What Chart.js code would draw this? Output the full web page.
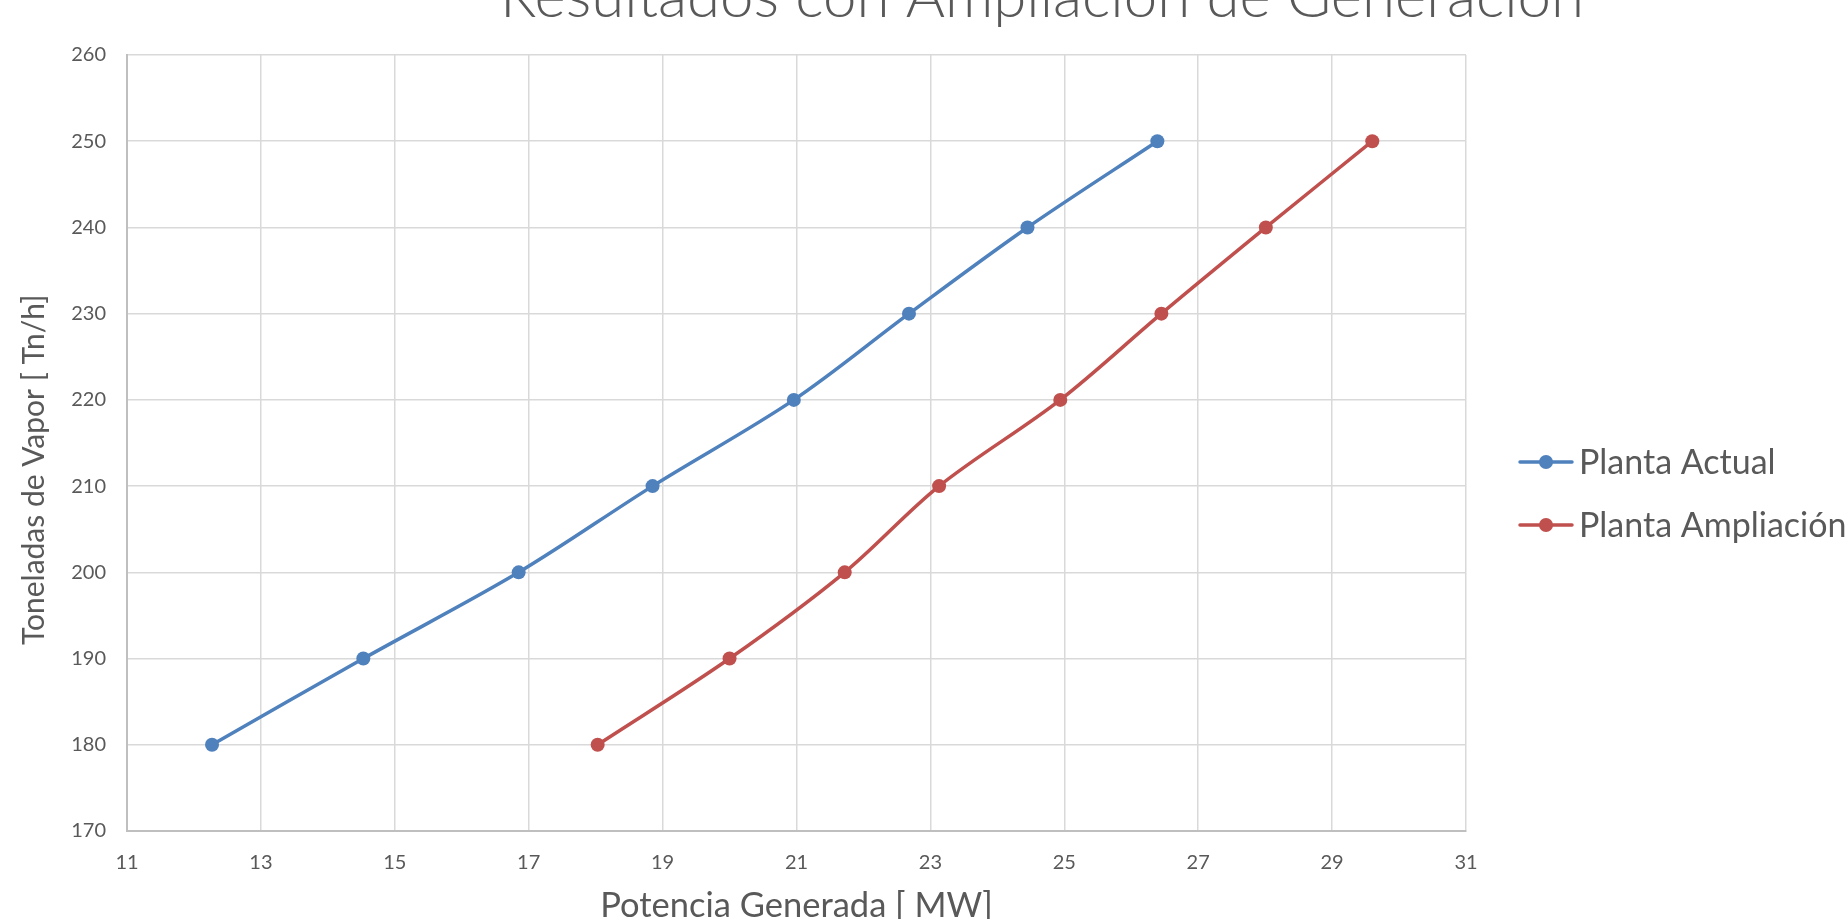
<!DOCTYPE html>
<html>
<head>
<meta charset="utf-8">
<script src="https://cdn.jsdelivr.net/npm/chart.js@4"></script>
<style>
  html, body { margin: 0; padding: 0; background: #ffffff; overflow: hidden; }
  #c { display: block; }
</style>
</head>
<body>
<canvas id="c" width="1846" height="919"></canvas>
<script>
// ---- Data ----
const toneladasVapor = [180, 190, 200, 210, 220, 230, 240, 250];
const potenciaActual = [12.27, 14.53, 16.85, 18.85, 20.96, 22.68, 24.45, 26.39];
const potenciaAmpliacion = [18.03, 20.00, 21.72, 23.13, 24.94, 26.45, 28.01, 29.60];
const seriesNames = ['Planta Actual', 'Planta Ampliación'];
const xTicks = [11, 13, 15, 17, 19, 21, 23, 25, 27, 29, 31];
const yTicks = [170, 180, 190, 200, 210, 220, 230, 240, 250, 260];
const chartTitle = 'Resultados con Ampliación de Generación';
const xAxisTitle = 'Potencia Generada [ MW]';
const yAxisTitle = 'Toneladas de Vapor [ Tn/h]';

const COLORS = ['#4F81BD', '#C0504D'];
const TEXT = '#595959';
const FONT = 'Lato, "Open Sans", sans-serif';

function pts(xs, ys) { return xs.map((x, i) => ({ x: x, y: ys[i] })); }

const titleAndLegend = {
  id: 'titleAndLegend',
  afterDraw(chart) {
    const ctx = chart.ctx;
    ctx.save();
    // Title (top part cut off by the page edge, as in the reference)
    ctx.fillStyle = TEXT;
    ctx.font = '300 60px ' + FONT;
    ctx.textAlign = 'center';
    ctx.textBaseline = 'alphabetic';
    ctx.fillText(chartTitle, 1042, 17);
    // Legend: line + circle marker + label
    const rows = [462, 525];
    chart.data.datasets.forEach((ds, i) => {
      const y = rows[i];
      ctx.strokeStyle = ds.borderColor;
      ctx.lineWidth = ds.borderWidth;
      ctx.lineCap = 'round';
      ctx.beginPath();
      ctx.moveTo(1520, y);
      ctx.lineTo(1572, y);
      ctx.stroke();
      ctx.fillStyle = ds.borderColor;
      ctx.beginPath();
      ctx.arc(1546, y, ds.pointRadius, 0, Math.PI * 2);
      ctx.fill();
      ctx.fillStyle = TEXT;
      ctx.font = '34px ' + FONT;
      ctx.textAlign = 'left';
      ctx.textBaseline = 'middle';
      ctx.fillText(ds.label, 1579, y + 1);
    });
    ctx.restore();
  }
};

new Chart(document.getElementById('c'), {
  type: 'scatter',
  data: {
    datasets: [
      {
        label: seriesNames[0],
        data: pts(potenciaActual, toneladasVapor),
        showLine: true,
        borderColor: COLORS[0],
        backgroundColor: COLORS[0],
        borderWidth: 3.5,
        pointRadius: 7,
        pointHoverRadius: 7,
        pointBackgroundColor: COLORS[0],
        pointBorderColor: COLORS[0],
        pointBorderWidth: 0,
        tension: 0.33
      },
      {
        label: seriesNames[1],
        data: pts(potenciaAmpliacion, toneladasVapor),
        showLine: true,
        borderColor: COLORS[1],
        backgroundColor: COLORS[1],
        borderWidth: 3.5,
        pointRadius: 7,
        pointHoverRadius: 7,
        pointBackgroundColor: COLORS[1],
        pointBorderColor: COLORS[1],
        pointBorderWidth: 0,
        tension: 0.33
      }
    ]
  },
  options: {
    responsive: false,
    animation: false,
    devicePixelRatio: 1,
    layout: { padding: { top: 55, right: 380, left: 0, bottom: 0 } },
    plugins: {
      legend: { display: false },
      title: { display: false },
      tooltip: { enabled: false }
    },
    scales: {
      x: {
        type: 'linear',
        min: xTicks[0],
        max: xTicks[xTicks.length - 1],
        afterBuildTicks: (s) => { s.ticks = xTicks.map(v => ({ value: v })); },
        afterFit: (s) => { s.height = 88; },
        grid: { color: '#D9D9D9', lineWidth: 1.5, drawTicks: false },
        border: { color: '#BFBFBF', width: 2 },
        ticks: { color: TEXT, padding: 20, font: { family: FONT, size: 20 } },
        title: {
          display: true,
          text: xAxisTitle,
          color: TEXT,
          font: { family: FONT, size: 34.5, lineHeight: 0.6 },
          padding: { top: 0, bottom: 3 }
        }
      },
      y: {
        type: 'linear',
        min: yTicks[0],
        max: yTicks[yTicks.length - 1],
        afterBuildTicks: (s) => { s.ticks = yTicks.map(v => ({ value: v })); },
        afterFit: (s) => { s.width = 127; },
        grid: { color: '#D9D9D9', lineWidth: 1.5, drawTicks: false },
        border: { color: '#BFBFBF', width: 2 },
        ticks: { color: TEXT, padding: 21, font: { family: FONT, size: 20 } },
        title: {
          display: true,
          text: yAxisTitle + '\u00A0\u00A0\u00A0\u00A0\u00A0\u00A0\u00A0',
          color: TEXT,
          font: { family: FONT, size: 30, lineHeight: 1 },
          padding: { top: 19, bottom: 0 }
        }
      }
    }
  },
  plugins: [titleAndLegend]
});
</script>
</body>
</html>
